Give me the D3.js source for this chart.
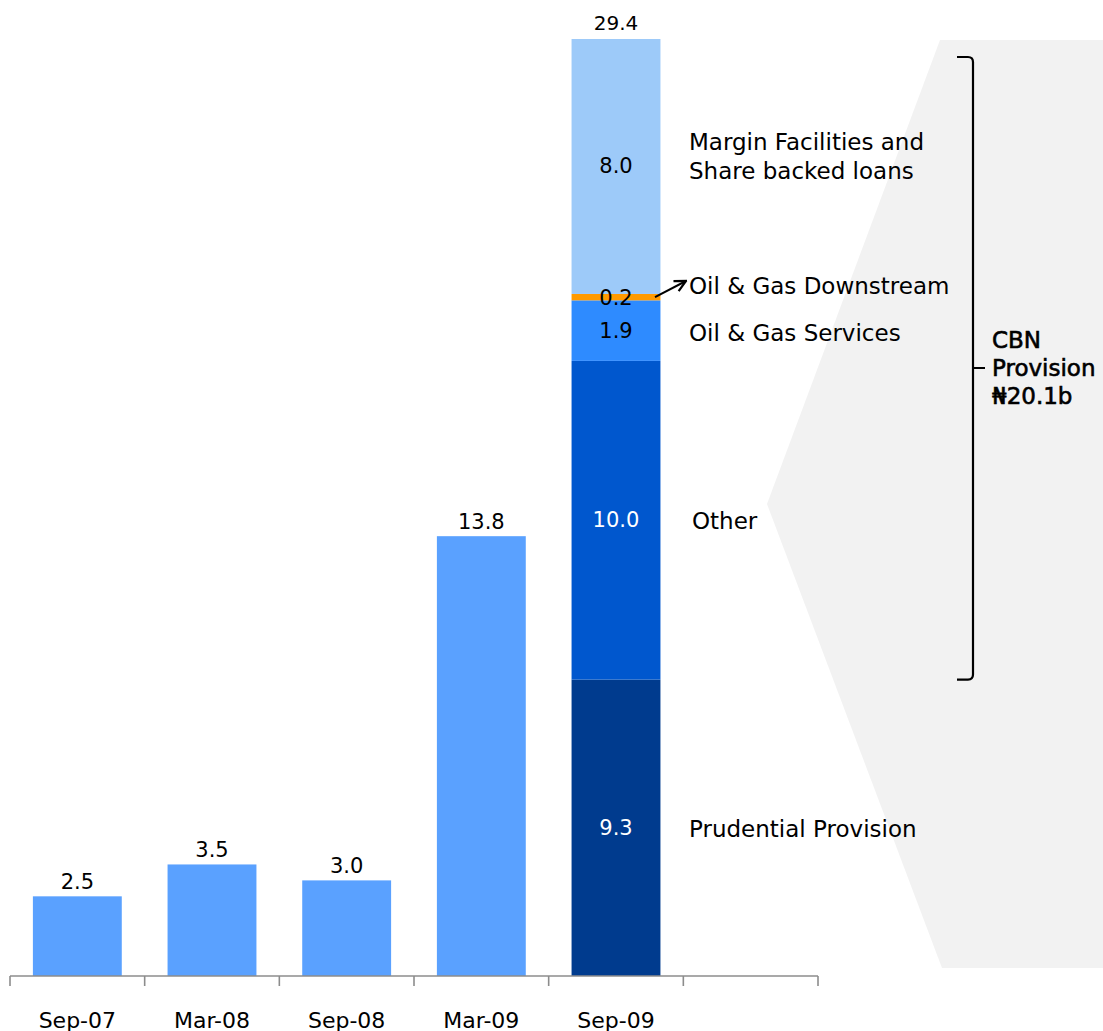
<!DOCTYPE html>
<html>
<head>
<meta charset="utf-8">
<script src="https://cdn.jsdelivr.net/npm/d3@7"></script>
<style>
  html, body { margin: 0; padding: 0; background: #fff; }
  svg { display: block; font-family: "DejaVu Sans", sans-serif; }
</style>
</head>
<body>
<svg id="chart" width="1103" height="1031"></svg>
<script>
// Provisions by period (N billions)
const periods = ["Sep-07", "Mar-08", "Sep-08", "Mar-09", "Sep-09", ""];
const totals = [2.5, 3.5, 3.0, 13.8];
const totalPeriods = ["Sep-07", "Mar-08", "Sep-08", "Mar-09"];

// Sep-09 breakdown, bottom to top
const segmentKeys = ["Prudential Provision", "Other", "Oil & Gas Services", "Oil & Gas Downstream", "Margin Facilities"];
const segmentValues = [9.3, 10.0, 1.9, 0.2, 8.0];
const segmentColors = ["#003B8E", "#0057CE", "#2E8BFF", "#FF9A00", "#9DCAF9"];
const segmentLabelColors = ["#fff", "#fff", "#000", "#000", "#000"];
const segmentNames = [["Prudential Provision"], ["Other"], ["Oil & Gas Services"], ["Oil & Gas Downstream"], ["Margin Facilities and", "Share backed loans"]];
const stackTotal = 29.4;
const cbnLines = ["CBN", "Provision", "\u20A620.1b"];

const svg = d3.select("#chart");

const x = d3.scaleBand().domain(periods).range([10, 818]).paddingInner(0.34).paddingOuter(0.17);
const y = d3.scaleLinear().domain([0, stackTotal]).range([976, 39]);

// grey backdrop behind the CBN breakdown
svg.append("polygon")
  .attr("points", [[940, 40], [1103, 40], [1103, 968], [942, 968], [767, 504]].map(p => p.join(",")).join(" "))
  .attr("fill", "#F2F2F2");

// single-value bars
const totalRows = totalPeriods.map((p, i) => ({ period: p, value: totals[i] }));
svg.selectAll("rect.total").data(totalRows).join("rect")
  .attr("class", "total")
  .attr("x", d => x(d.period))
  .attr("width", x.bandwidth())
  .attr("y", d => y(d.value))
  .attr("height", d => y(0) - y(d.value))
  .attr("fill", "#5AA1FF");

svg.selectAll("text.total").data(totalRows).join("text")
  .attr("class", "total")
  .attr("x", d => x(d.period) + x.bandwidth() / 2)
  .attr("y", d => y(d.value) - 7)
  .attr("text-anchor", "middle")
  .attr("font-size", 21)
  .attr("fill", "#000")
  .text(d => d.value.toFixed(1));

// stacked Sep-09 bar
const row = {};
segmentKeys.forEach((k, i) => row[k] = segmentValues[i]);
const series = d3.stack().keys(segmentKeys)([row]);
const xs = x("Sep-09");

svg.selectAll("rect.seg").data(series).join("rect")
  .attr("class", "seg")
  .attr("x", xs)
  .attr("width", x.bandwidth())
  .attr("y", d => y(d[0][1]))
  .attr("height", d => y(d[0][0]) - y(d[0][1]))
  .attr("fill", (d, i) => segmentColors[i]);

svg.selectAll("text.seg").data(series).join("text")
  .attr("class", "seg")
  .attr("x", xs + x.bandwidth() / 2)
  .attr("y", (d, i) => i === 3 ? y(d[0][1]) + 4 : (y(d[0][0]) + y(d[0][1])) / 2)
  .attr("dominant-baseline", "central")
  .attr("text-anchor", "middle")
  .attr("font-size", 21)
  .attr("fill", (d, i) => segmentLabelColors[i])
  .text((d, i) => segmentValues[i].toFixed(1));

svg.append("text")
  .attr("x", xs + x.bandwidth() / 2)
  .attr("y", y(stackTotal) - 9)
  .attr("text-anchor", "middle")
  .attr("font-size", 20)
  .text(stackTotal.toFixed(1));

// category names to the right of the stack
const nameX = 689;
const nameY = series.map((d, i) => {
  if (i === 3) return 286;
  if (i === 2) return 333;
  if (i === 4) return 156;
  return (y(d[0][0]) + y(d[0][1])) / 2 + 1;
});
series.forEach((d, i) => {
  const lines = segmentNames[i];
  const t = svg.append("text")
    .attr("font-size", 23)
    .attr("fill", "#000");
  lines.forEach((ln, j) => {
    t.append("tspan")
      .attr("x", i === 1 ? nameX + 3 : nameX)
      .attr("y", nameY[i] + (j - (lines.length - 1) / 2) * 29)
      .attr("dominant-baseline", "central")
      .text(ln);
  });
});

// arrow to the thin downstream slice
const defs = svg.append("defs");
defs.append("marker")
  .attr("id", "chev")
  .attr("viewBox", "0 0 10 10")
  .attr("refX", 9).attr("refY", 5)
  .attr("markerWidth", 7).attr("markerHeight", 7)
  .attr("orient", "auto")
  .append("path")
  .attr("d", "M1,1 L9,5 L1,9")
  .attr("fill", "none")
  .attr("stroke", "#000")
  .attr("stroke-width", 1.6);
svg.append("line")
  .attr("x1", 655).attr("y1", y(21.3))
  .attr("x2", 686).attr("y2", 281)
  .attr("stroke", "#000")
  .attr("stroke-width", 2)
  .attr("marker-end", "url(#chev)");

// bracket grouping the CBN provision
const bTop = 57, bBot = y(9.3), bMid = 368, bx = 973;
svg.append("path")
  .attr("d", `M957,${bTop} L${bx - 5},${bTop} Q${bx},${bTop} ${bx},${bTop + 5} L${bx},${bBot - 5} Q${bx},${bBot} ${bx - 5},${bBot} L957,${bBot} M${bx},${bMid} L${bx + 12},${bMid}`)
  .attr("fill", "none")
  .attr("stroke", "#000")
  .attr("stroke-width", 2.2);

const cbn = svg.append("text")
  .attr("font-size", 23)
  .attr("fill", "#000")
  .attr("stroke", "#000")
  .attr("stroke-width", 0.6);
cbnLines.forEach((ln, j) => {
  cbn.append("tspan")
    .attr("x", 992)
    .attr("y", 340 + j * 28)
    .attr("dominant-baseline", "central")
    .text(ln);
});

// category axis with ticks at band boundaries
const step = x.step();
const axisY = y(0);
const x0 = x(periods[0]) - step * x.paddingOuter();
const g = svg.append("g").attr("stroke", "#8C8C8C").attr("stroke-width", 1.6);
g.append("line").attr("x1", x0).attr("x2", x0 + step * periods.length).attr("y1", axisY).attr("y2", axisY);
d3.range(periods.length + 1).forEach(i => {
  g.append("line")
    .attr("x1", x0 + i * step).attr("x2", x0 + i * step)
    .attr("y1", axisY).attr("y2", axisY + 10);
});

svg.selectAll("text.cat").data(periods.filter(p => p)).join("text")
  .attr("class", "cat")
  .attr("x", d => x(d) + x.bandwidth() / 2)
  .attr("y", 1020)
  .attr("dominant-baseline", "central")
  .attr("text-anchor", "middle")
  .attr("font-size", 22)
  .attr("fill", "#000")
  .text(d => d);
</script>
</body>
</html>
